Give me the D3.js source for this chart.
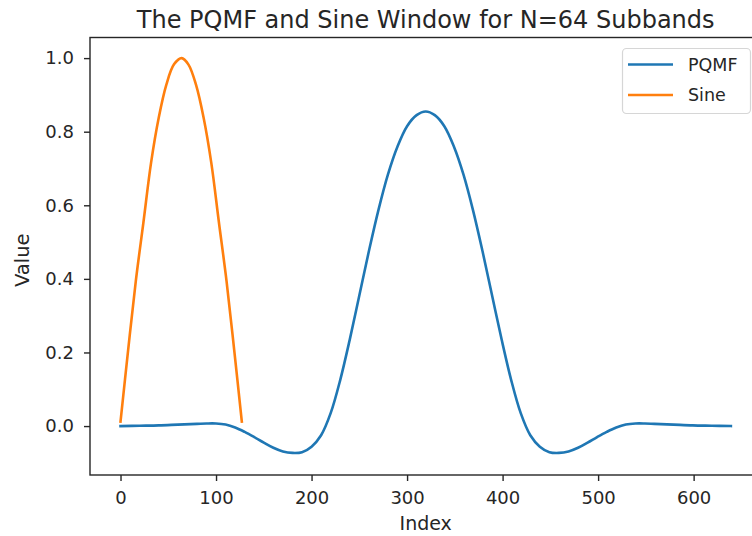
<!DOCTYPE html>
<html>
<head>
<meta charset="utf-8">
<script src="https://cdn.jsdelivr.net/npm/d3@7"></script>
<style>
  html, body { margin: 0; padding: 0; background: #fff; }
  svg { display: block; }
  text { font-family: "DejaVu Sans", sans-serif; fill: #262626; }
</style>
</head>
<body>
<svg id="chart" width="752" height="536"></svg>
<script>
// ---- data ----
const pqmfIndex = [0, 20, 40, 60, 80, 90, 100, 110, 120, 130, 140, 150, 160, 170, 180, 190, 200, 210, 220, 230, 240, 250, 260, 270, 280, 290, 300, 310,
                   319.5,
                   329, 339, 349, 359, 369, 379, 389, 399, 409, 419, 429, 439, 449, 459, 469, 479, 489, 499, 509, 519, 529, 539, 549, 559, 579, 599, 619, 639];
const pqmfValue = [0.000, 0.001, 0.002, 0.004, 0.006, 0.007, 0.007, 0.004, -0.004, -0.016, -0.030, -0.045, -0.059, -0.069, -0.073, -0.071, -0.056, -0.025, 0.035, 0.125, 0.235, 0.355, 0.475, 0.587, 0.684, 0.760, 0.815, 0.845,
                   0.855,
                   0.845, 0.815, 0.760, 0.684, 0.587, 0.475, 0.355, 0.235, 0.125, 0.035, -0.025, -0.056, -0.071, -0.073, -0.069, -0.059, -0.045, -0.030, -0.016, -0.004, 0.004, 0.007, 0.007, 0.006, 0.004, 0.002, 0.001, 0.000];
const sineIndex = [0, 8, 16, 24, 32, 40, 48, 56, 64, 71, 79, 87, 95, 103, 111, 119, 127];
const sineValue = [0.012, 0.207, 0.394, 0.554, 0.716, 0.838, 0.928, 0.983, 1.0, 0.983, 0.928, 0.838, 0.716, 0.554, 0.394, 0.207, 0.012];
const xTicks = [0, 100, 200, 300, 400, 500, 600];
const yTicks = [0.0, 0.2, 0.4, 0.6, 0.8, 1.0];
const seriesNames = ["PQMF", "Sine"];
const seriesColors = ["#1f77b4", "#ff7f0e"];
const titleText = "The PQMF and Sine Window for N=64 Subbands";
const xLabel = "Index";
const yLabel = "Value";
const xDomain = [-31.95, 670.95];
const yDomain = [-0.133, 1.056];

// ---- layout ----
const pLeft = 90, pTop = 37.5, pRight = 761.4, pBottom = 475;
const svg = d3.select("#chart");
const x = d3.scaleLinear().domain(xDomain).range([pLeft, pRight]);
const y = d3.scaleLinear().domain(yDomain).range([pBottom, pTop]);

const series = [
  pqmfIndex.map((d, i) => [d, pqmfValue[i]]),
  sineIndex.map((d, i) => [d, sineValue[i]])
];

const line = d3.line().x(d => x(d[0])).y(d => y(d[1])).curve(d3.curveCatmullRom.alpha(0.5));

svg.append("clipPath").attr("id", "clip").append("rect")
  .attr("x", pLeft).attr("y", pTop).attr("width", pRight - pLeft).attr("height", pBottom - pTop);

const plot = svg.append("g").attr("clip-path", "url(#clip)");
series.forEach((s, i) => {
  plot.append("path").datum(s)
    .attr("d", line)
    .attr("fill", "none")
    .attr("stroke", seriesColors[i])
    .attr("stroke-width", 2.6)
    .attr("stroke-linecap", "square")
    .attr("stroke-linejoin", "round");
});

// axes
const axisColor = "#262626";
const xAxis = d3.axisBottom(x).tickValues(xTicks).tickFormat(d3.format("d")).tickSize(6).tickPadding(10);
const yAxis = d3.axisLeft(y).tickValues(yTicks).tickFormat(d3.format(".1f")).tickSize(6).tickPadding(10);

const gx = svg.append("g").attr("transform", `translate(0,${pBottom})`).call(xAxis);
const gy = svg.append("g").attr("transform", `translate(${pLeft},0)`).call(yAxis);
[gx, gy].forEach(g => {
  g.select(".domain").remove();
  g.selectAll(".tick line").attr("stroke", axisColor).attr("stroke-width", 1.4);
  g.selectAll(".tick text").attr("font-size", "18px").attr("fill", "#262626")
    .style("font-family", "'DejaVu Sans', sans-serif");
});

// frame (spines)
svg.append("rect")
  .attr("x", pLeft).attr("y", pTop).attr("width", pRight - pLeft).attr("height", pBottom - pTop)
  .attr("fill", "none").attr("stroke", axisColor).attr("stroke-width", 1.4);

// title & labels
svg.append("text").attr("x", (pLeft + pRight) / 2).attr("y", 28)
  .attr("text-anchor", "middle").attr("font-size", "24px").text(titleText);
svg.append("text").attr("x", (pLeft + pRight) / 2).attr("y", 530)
  .attr("text-anchor", "middle").attr("font-size", "19px").text(xLabel);
svg.append("text").attr("transform", `translate(29,${(pTop + pBottom) / 2 + 4}) rotate(-90)`)
  .attr("text-anchor", "middle").attr("font-size", "19.5px").text(yLabel);

// legend
const lg = svg.append("g");
lg.append("rect").attr("x", 622.5).attr("y", 48.5).attr("width", 128).attr("height", 65)
  .attr("rx", 4).attr("fill", "#fff").attr("fill-opacity", 0.8)
  .attr("stroke", "#d6d6d6").attr("stroke-width", 1.2);
seriesNames.forEach((name, i) => {
  const ly = 64.5 + i * 30.5;
  lg.append("line").attr("x1", 628).attr("x2", 673).attr("y1", ly).attr("y2", ly)
    .attr("stroke", seriesColors[i]).attr("stroke-width", 2.6);
  lg.append("text").attr("x", 688).attr("y", ly + 6).attr("font-size", "17.5px").text(name);
});
</script>
</body>
</html>
